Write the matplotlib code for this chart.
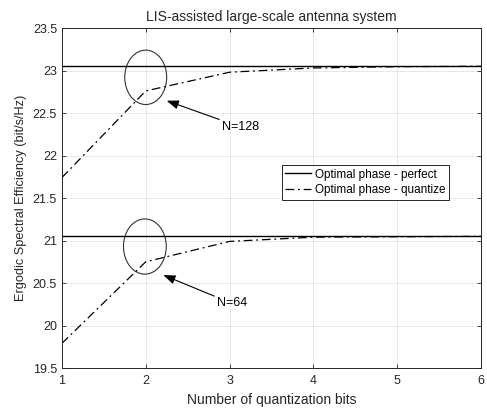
import matplotlib.pyplot as plt
from matplotlib.patches import Ellipse

plt.rcParams["font.family"] = ["Liberation Sans", "DejaVu Sans"]

bits = [1, 2, 3, 4, 5, 6]
perfect_128 = [23.05, 23.05, 23.05, 23.05, 23.05, 23.05]
quant_128 = [21.74, 22.76, 22.98, 23.03, 23.045, 23.05]
perfect_64 = [21.05, 21.05, 21.05, 21.05, 21.05, 21.05]
quant_64 = [19.79, 20.75, 20.99, 21.04, 21.045, 21.05]

fig = plt.figure(figsize=(4.87, 4.09), dpi=100)
ax = fig.add_axes([0.127, 0.100, 0.861, 0.8315])

dash = (0, (7, 3, 1.5, 3))
ax.plot(bits, perfect_128, color="black", lw=1.0, label="Optimal phase - perfect")
ax.plot(bits, quant_128, color="black", lw=0.9, linestyle=dash,
        label="Optimal phase - quantize")
ax.plot(bits, perfect_64, color="black", lw=1.0)
ax.plot(bits, quant_64, color="black", lw=0.9, linestyle=dash)

# circles around the 2-bit points
ax.add_patch(Ellipse((2.0, 22.92), 0.50, 0.64, fill=False, ec="#333333", lw=0.8))
ax.add_patch(Ellipse((1.99, 20.93), 0.51, 0.65, fill=False, ec="#333333", lw=0.8))

arrow = dict(arrowstyle="-|>,head_length=0.8,head_width=0.3", color="black",
             lw=0.8, shrinkA=0, shrinkB=0)
ax.annotate("N=128", xy=(2.25, 22.645), xytext=(2.91, 22.335), fontsize=9,
            va="center", ha="left", arrowprops=arrow)
ax.annotate("N=64", xy=(2.21, 20.594), xytext=(2.85, 20.26), fontsize=9,
            va="center", ha="left", arrowprops=arrow)

ax.set_xlim(1, 6)
ax.set_ylim(19.5, 23.5)
ax.set_xticks(bits)
ax.set_yticks([19.5, 20, 20.5, 21, 21.5, 22, 22.5, 23, 23.5])
ax.set_yticklabels(["19.5", "20", "20.5", "21", "21.5", "22", "22.5", "23", "23.5"])
ax.tick_params(direction="in", top=True, right=True, labelsize=9, length=3,
               width=0.6, colors="#262626")
ax.tick_params(axis="x", pad=5)
ax.grid(True, color="#e3e3e3", linewidth=0.6)
ax.set_axisbelow(True)
for s in ax.spines.values():
    s.set_color("#262626")
    s.set_linewidth(0.7)

ax.set_xlabel("Number of quantization bits", fontsize=10, color="#262626", labelpad=4)
ax.set_ylabel("Ergodic Spectral Efficiency (bit/s/Hz)", fontsize=9.2, color="#262626",
              labelpad=4)
ax.set_title("LIS-assisted large-scale antenna system", fontsize=10, color="#262626",
             pad=5)

leg = ax.legend(loc="upper left", bbox_to_anchor=(0.524, 0.597), fontsize=8.5,
                frameon=True, fancybox=False, edgecolor="#262626", framealpha=1,
                borderpad=0.3, handlelength=2.2, handletextpad=0.3,
                labelspacing=0.3, borderaxespad=0)
leg.get_frame().set_linewidth(0.7)

fig.savefig("out.png", dpi=100)
